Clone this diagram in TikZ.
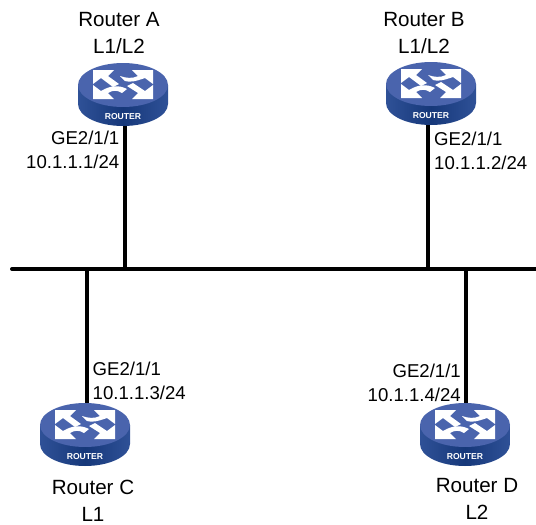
\documentclass[tikz,border=0pt]{standalone}
\usepackage{fontspec}
\setmainfont{Liberation Sans}
\usepackage{xcolor}
\usetikzlibrary{positioning}
\definecolor{rtrtop}{HTML}{4A64AD}
\definecolor{rtrside}{HTML}{16387A}
\definecolor{rtrsidel}{HTML}{2F5197}
\tikzset{
  link/.style={line width=4pt,line cap=round},
  rtbox/.style={inner sep=0pt,minimum width=90pt,minimum height=62pt},
  rname/.style={font=\fontsize{20.6}{27}\selectfont,align=center,inner sep=0pt},
  port/.style={font=\fontsize{18.6}{24}\selectfont,inner sep=0pt},
  pics/router/.style={code={
      \shade[left color=rtrsidel,right color=rtrsidel,middle color=rtrside] (-45,0) -- (-45,19) arc[start angle=180,end angle=0,x radius=45,y radius=22] -- (45,0) -- cycle;
      \fill[rtrtop] (0,0) ellipse[x radius=45,y radius=22];
      \fill[white] (-30,-15) -- (-9,-15) -- (-15,-9) -- (-4,-1) -- (-10,2) -- (-22,-7) -- (-30,-1) -- cycle;
      \fill[white] (30,-15) -- (9,-15) -- (15,-9) .. controls (9,-6) and (3,-7) .. (-3,-9) -- (2,-4) .. controls (7,-2.5) and (12,-3.5) .. (22,-7) -- (30,-1) -- cycle;
      \fill[white] (-30,14) -- (-9,14) -- (-15,8) .. controls (-10,5) and (-6,5) .. (-1,8) -- (4,4) .. controls (-4,0) and (-12,0) .. (-22,6) -- (-30,0) -- cycle;
      \fill[white] (30,14) -- (9,14) -- (15,8) -- (4,1) -- (10,-2) -- (22,6) -- (30,0) -- cycle;
      \node[text=white,inner sep=0pt,font=\fontsize{8.6}{9}\selectfont\bfseries] (-rtext) at (0,31.5) {ROUTER};
  }}
}
\begin{document}
\begin{tikzpicture}[x=1pt,y=-1pt]
  \useasboundingbox (0,0) rectangle (536,525);
  \coordinate (busW) at (12,269);
  \coordinate (busE) at (536,269);
  \coordinate (tapA) at (125,269);
  \coordinate (tapB) at (428,269);
  \coordinate (tapC) at (87,269);
  \coordinate (tapD) at (466,269);
  \node[rtbox] (rtrA) at (123,94) {};
  \node[rtbox] (rtrB) at (431,93) {};
  \node[rtbox] (rtrC) at (85,434) {};
  \node[rtbox] (rtrD) at (465,434) {};
  \draw[link] (busW) -- (busE);
  \draw[link,line cap=butt] (tapA) -- (tapA |- rtrA);
  \draw[link,line cap=butt] (tapB) -- (tapB |- rtrB);
  \draw[link,line cap=butt] (tapC) -- (tapC |- rtrC);
  \draw[link,line cap=butt] (tapD) -- (tapD |- rtrD);
  \pic (picA) at ([yshift=9pt]rtrA) {router};
  \pic (picB) at ([yshift=9pt]rtrB) {router};
  \pic (picC) at ([yshift=9pt]rtrC) {router};
  \pic (picD) at ([yshift=9pt]rtrD) {router};
  % names
  \node[rname] (nameA) at (119,33.5) {Router A\\L1/L2};
  \node[rname] (nameB) at (424,33.5) {Router B\\L1/L2};
  \node[rname] (nameC) at (93,500.5) {Router C\\L1};
  \node[rname] (nameD) at (477,498.5) {Router D\\L2};
  % ports
  \node[port,align=right,anchor=east] (portA) at (119.5,150) {GE2/1/1\\10.1.1.1/24};
  \node[port,align=left,anchor=west] (portB) at (434,150.5) {GE2/1/1\\10.1.1.2/24};
  \node[port,align=left,anchor=west] (portC) at (92.5,381) {GE2/1/1\\10.1.1.3/24};
  \node[port,align=right,anchor=east] (portD) at (461,383) {GE2/1/1\\10.1.1.4/24};
\end{tikzpicture}
\end{document}
